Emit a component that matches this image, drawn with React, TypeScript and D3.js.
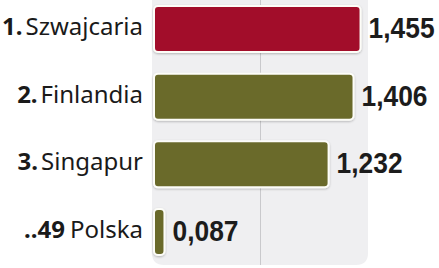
import React from "react";
import * as d3 from "d3";

const ranks = ["1.", "2.", "3.", "..49"];
const countries = ["Szwajcaria", "Finlandia", "Singapur", "Polska"];
const values = [1.455, 1.406, 1.232, 0.087];
const valueLabels = ["1,455", "1,406", "1,232", "0,087"];
const highlight = [true, false, false, false];
const gridTicks = [0.75];

const W = 439;
const H = 268;

export default function App() {
  const x = d3.scaleLinear().domain([0, 1.5]).range([153, 368]);
  const y = d3.scaleBand<string>().domain(countries).range([5, 256]).paddingInner(0.29).paddingOuter(0);
  const bw = y.bandwidth();
  const panelX = x(0) - 1;
  const panelR = x(1.5);
  const panelBottom = 265;
  const r = 12;
  const panelPath = `M${panelX},-5 L${panelR},-5 L${panelR},${panelBottom - r} Q${panelR},${panelBottom} ${panelR - r},${panelBottom} L${panelX + r},${panelBottom} Q${panelX},${panelBottom} ${panelX},${panelBottom - r} Z`;
  return (
    <svg width={W} height={H} style={{ position: "absolute", left: 0, top: 0, background: "#fff" }}>
      <defs>
        <filter id="sh" x="-20%" y="-20%" width="140%" height="150%">
          <feDropShadow dx="0" dy="1" stdDeviation="1" floodColor="#000" floodOpacity="0.25" />
        </filter>
      </defs>
      <path d={panelPath} fill="#efeff1" />
      {gridTicks.map((t) => (
        <line key={t} x1={x(t)} x2={x(t)} y1={0} y2={panelBottom} stroke="#c9c9cc" strokeWidth={1} />
      ))}
      {countries.map((c, i) => {
        const y0 = y(c)!;
        const cy = y0 + bw / 2;
        const x1 = x(values[i]);
        return (
          <g key={c}>
            <rect
              x={x(0) + 1}
              y={y0 + 1}
              width={Math.max(0, x1 - x(0) - 2)}
              height={bw - 2}
              rx={4}
              fill={highlight[i] ? "#a20f2c" : "#6a6a2c"}
              stroke="#fdfdf8"
              strokeWidth={2}
              filter="url(#sh)"
            />
            <text
              x={143}
              y={cy + 6}
              textAnchor="end"
              fontFamily="'Noto Sans', sans-serif"
              fontSize={24}
              fill="#1a1a1a"
            >
              <tspan fontWeight="bold">{ranks[i]}</tspan>
              <tspan dx={i === 3 ? 5 : 3}>{c}</tspan>
            </text>
            <text
              x={x1 + 7}
              y={cy + 9}
              fontFamily="'Liberation Sans', Arial, sans-serif"
              fontWeight="bold"
              fontSize={30}
              textLength={66}
              lengthAdjust="spacingAndGlyphs"
              fill="#1c1c1c"
            >
              {valueLabels[i]}
            </text>
          </g>
        );
      })}
    </svg>
  );
}
